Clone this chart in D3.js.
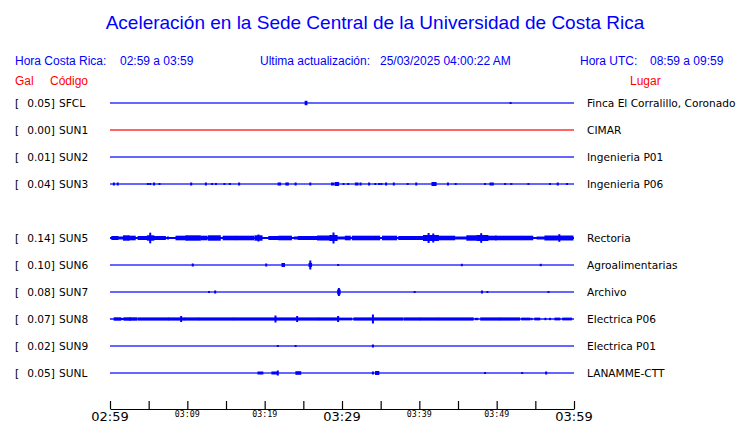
<!DOCTYPE html>
<html><head><meta charset="utf-8">
<script src="https://cdn.jsdelivr.net/npm/d3@7"></script>
<style>
body{margin:0;background:#fff;}
svg{display:block;}
</style></head>
<body>
<svg id="c" width="740" height="423"></svg>
<script>
// ---------- data ----------
const title = "Aceleración en la Sede Central de la Universidad de Costa Rica";
const rowOrder = ["SFCL","SUN1","SUN2","SUN3","SUN4","SUN5","SUN6","SUN7","SUN8","SUN9","SUNL"];
const codes = ["SFCL","SUN1","SUN2","SUN3","SUN5","SUN6","SUN7","SUN8","SUN9","SUNL"];
const galValues = [0.05,0.00,0.01,0.04,0.14,0.10,0.08,0.07,0.02,0.05];
const places = ["Finca El Corralillo, Coronado","CIMAR","Ingenieria P01","Ingenieria P06","Rectoria","Agroalimentarias","Archivo","Electrica P06","Electrica P01","LANAMME-CTT"];
const traceColors = ["blue","red","blue","blue","blue","blue","blue","blue","blue","blue"];
const baseAmp = [0.6,0.6,0.6,0.6,1.0,0.6,0.6,0.7,0.6,0.6];
const tickLabels = ["02:59","03:09","03:19","03:29","03:39","03:49","03:59"];
const bigTickLabels = ["02:59","03:29","03:59"];
// bursts: [startMinute, endMinute, amplitude] minutes after 02:59
const sfclBursts = [[25.3,25.4,2.2],[51.8,51.8,1]];
const sun1Bursts = [];
const sun2Bursts = [];
const sun3Bursts = [[0.5,0.5,1.5],[1.0,1.0,1.5],[4.9,4.9,1],[5.2,5.2,1],[5.7,5.7,1.5],[6.4,6.4,1],[10.5,10.5,1.5],[12.4,12.4,1.5],[13.2,13.2,1],[13.7,13.7,1],[14.8,14.8,1],[15.5,15.5,1],[16.7,16.7,1.5],[21.8,21.8,1.5],[22.0,22.0,1.5],[22.8,22.8,1.5],[23.0,23.0,1.5],[24.0,24.0,1.5],[25.9,25.9,1.5],[28.7,28.9,1.5],[29.2,29.5,2],[30.2,30.2,1],[30.8,30.8,1],[31.8,32.0,1.5],[32.4,32.4,1.5],[33.5,33.5,1.5],[34.3,34.3,1],[34.8,34.8,1],[35.1,35.1,1],[35.7,35.7,1.5],[36.7,36.7,1.5],[38.5,38.5,1],[39.6,39.6,1.5],[41.7,42.1,2],[43.7,43.7,1.5],[44.7,44.7,1],[48.5,48.5,1],[49.2,49.5,1.5],[51.1,51.1,1],[51.9,51.9,1],[54.1,54.1,1],[56.9,56.9,1],[57.9,57.9,1.5],[59.1,59.1,1]];
const sun5Bursts = [[0.3,1.0,2],[1.3,1.8,1.5],[1.8,2.4,2.7],[2.5,3.2,2.3],[3.7,4.9,2],[4.9,5.6,2.7],[5.2,5.2,5.3],[5.6,7.1,2],[7.5,7.5,1.5],[8.6,9.9,2.3],[9.9,11.6,2.7],[11.8,12.5,2.3],[12.8,14.2,2.7],[14.7,16.1,2.3],[16.3,18.5,2.3],[18.8,19.6,2.7],[19.2,19.2,3.5],[20.6,21.9,2],[21.9,23.4,2.3],[23.9,24.3,1.5],[24.4,26.9,2],[26.9,28.5,2.5],[28.5,29.3,3],[28.9,28.9,5.5],[29.3,30.3,1.5],[30.5,31.0,2.3],[31.4,34.8,2.3],[35.3,37.0,2.3],[37.4,40.6,2],[40.6,42.4,3],[41.2,41.2,5],[41.8,41.8,4.5],[42.6,44.5,2.3],[44.5,46.0,1.5],[46.2,47.3,2.7],[47.5,48.8,3],[48.0,48.0,4.8],[49.0,49.9,2.3],[49.9,53.1,2.3],[53.3,54.6,2.3],[55.3,56.1,1.5],[56.3,59.8,2.5],[58.1,58.1,3.8]];
const sun6Bursts = [[10.7,10.7,1.5],[20.2,20.2,1.5],[22.3,22.5,2],[25.8,26.0,2],[25.9,25.9,4.5],[29.5,29.5,1],[45.5,45.5,1.2],[55.7,55.7,1.2]];
const sun7Bursts = [[12.8,12.8,1],[13.6,13.6,1.5],[29.5,29.7,2.5],[29.6,29.6,4],[39.4,39.4,1],[48.1,48.1,1.5],[48.8,48.8,1],[56.7,56.7,1]];
const sun8Bursts = [[0.6,1.3,1.7],[1.5,1.7,1.2],[1.9,2.5,1.7],[2.6,3.4,1.7],[3.7,7.5,1.6],[7.7,9.5,1.6],[9.2,9.2,3],[9.7,11.4,1.6],[11.6,15.9,1.6],[16.1,21.3,1.6],[21.4,21.4,3.5],[21.5,26.9,1.6],[24.2,24.2,3],[27.1,29.5,1.6],[29.5,29.5,3],[29.7,31.2,1.4],[31.6,33.8,1.6],[34.0,34.0,4.5],[34.0,37.8,1.6],[38.1,40.0,1.6],[40.2,42.4,1.6],[42.6,46.9,1.6],[47.3,47.5,1.2],[48.0,50.3,1.6],[50.5,52.9,1.6],[53.3,54.2,1.4],[54.5,54.5,1.2],[55.0,55.5,1.4],[56.3,56.3,1.2],[56.9,56.9,1.2],[57.6,58.1,1.4],[58.6,59.6,1.4]];
const sun9Bursts = [[21.7,21.7,1],[24.0,24.0,1],[34.0,34.0,1.5]];
const sunlBursts = [[19.2,19.7,1.5],[21.0,21.5,1.5],[21.7,21.7,2.5],[24.1,24.6,1.8],[34.0,34.0,1.5],[34.4,34.7,2],[48.5,48.5,1],[53.3,53.3,1],[56.4,56.4,1.5]];
const burstsByCode = {SFCL:sfclBursts,SUN1:sun1Bursts,SUN2:sun2Bursts,SUN3:sun3Bursts,SUN5:sun5Bursts,SUN6:sun6Bursts,SUN7:sun7Bursts,SUN8:sun8Bursts,SUN9:sun9Bursts,SUNL:sunlBursts};

// ---------- drawing ----------
const svg = d3.select("#c");
const BLUE = "#0000ff", RED = "#ff0000";
const parse = d3.timeParse("%H:%M");
const t0 = parse("02:59"), t1 = parse("03:59");
const x = d3.scaleTime().domain([t0, t1]).range([110, 574]);
const atMin = m => new Date(t0.getTime() + m * 60000);
const y = d3.scalePoint().domain(rowOrder).range([103, 373]);
const amp = d3.scaleLinear().domain([0, 8]).range([0, 8]);

svg.append("text").attr("x", 375).attr("y", 29).attr("text-anchor", "middle")
  .attr("font-family", "Liberation Sans, Arial, sans-serif").attr("font-size", 19)
  .attr("fill", BLUE).text(title);

const hdr = [["Hora Costa Rica:",15],["02:59 a 03:59",120],["Ultima actualización:",260],["25/03/2025 04:00:22 AM",380],["Hora UTC:",580],["08:59 a 09:59",650]];
svg.selectAll("text.hdr").data(hdr).join("text").attr("class","hdr")
  .attr("x", d => d[1]).attr("y", 65)
  .attr("font-family", "Liberation Sans, Arial, sans-serif").attr("font-size", 12)
  .attr("fill", BLUE).text(d => d[0]);

const sub = [["Gal",15],["Código",50],["Lugar",630]];
svg.selectAll("text.sub").data(sub).join("text").attr("class","sub")
  .attr("x", d => d[1]).attr("y", 85)
  .attr("font-family", "Liberation Sans, Arial, sans-serif").attr("font-size", 12)
  .attr("fill", RED).text(d => d[0]);

const rows = codes.map((c, i) => ({code: c, gal: galValues[i], place: places[i], color: traceColors[i], base: baseAmp[i], bursts: burstsByCode[c]}));

const g = svg.selectAll("g.row").data(rows).join("g").attr("class", "row")
  .attr("transform", d => `translate(0,${y(d.code)})`);

const lbl = {"font-family": "DejaVu Sans, sans-serif", "font-size": 10.6, "fill": "#000"};
function styl(sel, o){ for (const k in o) sel.attr(k, o[k]); return sel; }
styl(g.append("text").attr("x", 15).attr("y", 4).text("["), lbl);
styl(g.append("text").attr("x", 55).attr("y", 4).attr("text-anchor", "end").text(d => d.gal.toFixed(2) + "]"), lbl);
styl(g.append("text").attr("x", 59).attr("y", 4).text(d => d.code), lbl);
styl(g.append("text").attr("x", 587).attr("y", 4).text(d => d.place), lbl);

g.append("rect")
  .attr("x", x(t0)).attr("width", x(t1) - x(t0))
  .attr("y", d => -amp(d.base)).attr("height", d => 2 * amp(d.base))
  .attr("fill", d => d.color);

g.each(function(d){
  d3.select(this).selectAll("rect.b").data(d.bursts).join("rect").attr("class","b")
    .attr("x", b => x(atMin(b[0])) - 1)
    .attr("width", b => Math.max(x(atMin(b[1])) - x(atMin(b[0])), 0) + 2)
    .attr("y", b => -amp(b[2])).attr("height", b => 2 * amp(b[2]))
    .attr("fill", d.color);
});

// axis
const tickVals = d3.range(0, 61, 5).map(atMin);
const axis = d3.axisTop(x).tickValues(tickVals).tickSize(8).tickSizeOuter(0).tickFormat("");
const ax = svg.append("g").attr("transform", "translate(0,409)").call(axis);
ax.select(".domain").attr("stroke", "#000").attr("stroke-width", 1.2);
ax.selectAll(".tick line").attr("stroke", "#000").attr("stroke-width", 1.2);

svg.selectAll("text.tl").data(tickLabels).join("text").attr("class","tl")
  .attr("x", d => x(parse(d))).attr("text-anchor", "middle")
  .attr("y", d => bigTickLabels.includes(d) ? 421 : 417)
  .attr("font-family", d => bigTickLabels.includes(d) ? "DejaVu Sans, sans-serif" : "DejaVu Sans Mono, monospace")
  .attr("font-size", d => bigTickLabels.includes(d) ? 13 : 8.3)
  .attr("fill", "#000").text(d => d);
</script>
</body></html>
